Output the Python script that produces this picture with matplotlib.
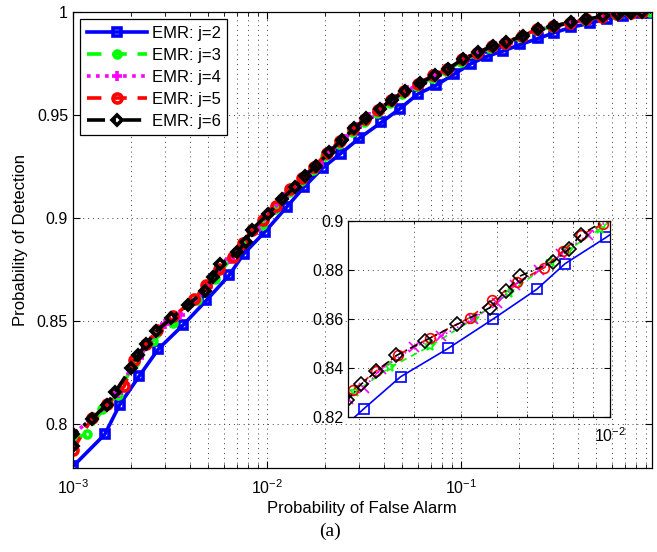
import matplotlib
matplotlib.use("Agg")
import matplotlib.pyplot as plt
from matplotlib.ticker import LogLocator, FixedLocator, NullFormatter, FixedFormatter

# ---------------- data ----------------
labels = ["EMR: j=2", "EMR: j=3", "EMR: j=4", "EMR: j=5", "EMR: j=6"]

x_j2 = [1.0e-3, 1.46e-3, 1.74e-3, 2.2e-3, 2.76e-3, 3.7e-3, 4.88e-3, 6.38e-3, 7.6e-3, 9.8e-3,
        1.27e-2, 1.55e-2, 1.94e-2, 2.4e-2, 3.0e-2, 3.9e-2, 4.85e-2, 6.0e-2, 7.45e-2, 9.25e-2,
        0.113, 0.136, 0.165, 0.203, 0.25, 0.303, 0.37, 0.466, 0.57, 0.69, 0.847, 0.94]
y_j2 = [0.7793, 0.7949, 0.8092, 0.8233, 0.8364, 0.8480, 0.8600, 0.8721, 0.8826, 0.8934,
        0.9055, 0.9149, 0.9243, 0.9313, 0.9388, 0.9465, 0.9531, 0.9602, 0.9645, 0.9699,
        0.9750, 0.9785, 0.9811, 0.9843, 0.9872, 0.9900, 0.9926, 0.9947, 0.9969, 0.9981, 0.9995, 0.9998]

x_j3 = [1.0e-3, 1.18e-3, 1.42e-3, 1.7e-3, 2.08e-3, 2.59e-3, 3.30e-3, 4.34e-3, 5.38e-3, 6.97e-3,
        7.73e-3, 9.4e-3, 1.1e-2, 1.3e-2, 1.5e-2, 1.72e-2, 2.0e-2, 2.35e-2, 2.75e-2, 3.15e-2,
        3.7e-2, 4.3e-2, 5.0e-2, 5.95e-2, 7.1e-2, 8.4e-2, 0.1, 0.12, 0.142, 0.168,
        0.203, 0.244, 0.296, 0.36, 0.435, 0.53, 0.635, 0.745, 0.855, 0.94]
y_j3 = [0.7925, 0.7951, 0.8070, 0.8140, 0.8300, 0.8403, 0.8488, 0.8601, 0.8706, 0.8833,
        0.8881, 0.8967, 0.9045, 0.9125, 0.9180, 0.9235, 0.9300, 0.9360, 0.9420, 0.9465,
        0.9512, 0.9558, 0.9600, 0.9640, 0.9680, 0.9712, 0.9760, 0.9795, 0.9828, 0.9847,
        0.9879, 0.9911, 0.9929, 0.9946, 0.9962, 0.9976, 0.9988, 0.9994, 0.9998, 1.0]

x_j4 = [1.0e-3, 1.24e-3, 1.48e-3, 1.7e-3, 2.0e-3, 2.2e-3, 2.45e-3, 2.99e-3, 3.55e-3, 4.3e-3,
        5.0e-3, 5.6e-3, 6.48e-3, 7.4e-3, 8.74e-3, 1.05e-2, 1.22e-2, 1.42e-2, 1.62e-2, 1.85e-2,
        2.15e-2, 2.5e-2, 2.9e-2, 3.35e-2, 3.9e-2, 4.5e-2, 5.3e-2, 6.3e-2, 7.5e-2, 8.8e-2,
        0.105, 0.125, 0.15, 0.175, 0.213, 0.255, 0.31, 0.38, 0.45, 0.55, 0.655, 0.765, 0.88]
y_j4 = [0.7951, 0.8020, 0.8085, 0.8150, 0.8275, 0.8320, 0.8395, 0.8485, 0.8530, 0.8600,
        0.8665, 0.8740, 0.8800, 0.8865, 0.8943, 0.9030, 0.9100, 0.9152, 0.9210, 0.9258,
        0.9325, 0.9385, 0.9440, 0.9490, 0.9533, 0.9578, 0.9620, 0.9658, 0.9697, 0.9724,
        0.9770, 0.9803, 0.9835, 0.9852, 0.9884, 0.9916, 0.9933, 0.9950, 0.9965, 0.9978, 0.9990, 0.9996, 0.9999]

x_j5 = [1.0e-3, 1.26e-3, 1.5e-3, 1.84e-3, 2.06e-3, 2.38e-3, 2.72e-3, 3.30e-3, 4.22e-3, 4.85e-3,
        5.66e-3, 6.68e-3, 7.49e-3, 8.39e-3, 9.6e-3, 1.12e-2, 1.32e-2, 1.52e-2, 1.75e-2, 2.05e-2,
        2.38e-2, 2.78e-2, 3.2e-2, 3.75e-2, 4.35e-2, 5.1e-2, 6.05e-2, 7.2e-2, 8.5e-2, 0.101,
        0.121, 0.144, 0.17, 0.206, 0.247, 0.3, 0.366, 0.44, 0.535, 0.64, 0.75, 0.86]
y_j5 = [0.7875, 0.8030, 0.8095, 0.8183, 0.8310, 0.8389, 0.8454, 0.8522, 0.8605, 0.8676,
        0.8751, 0.8809, 0.8877, 0.8943, 0.8988, 0.9060, 0.9140, 0.9195, 0.9250, 0.9315,
        0.9375, 0.9432, 0.9480, 0.9527, 0.9572, 0.9615, 0.9653, 0.9693, 0.9722, 0.9770,
        0.9802, 0.9834, 0.9852, 0.9884, 0.9916, 0.9933, 0.9949, 0.9965, 0.9978, 0.9989, 0.9995, 0.9999]

x_j6 = [1.0e-3, 1.0e-3, 1.25e-3, 1.49e-3, 1.65e-3, 1.99e-3, 2.17e-3, 2.38e-3, 2.69e-3, 3.21e-3,
        3.91e-3, 4.78e-3, 5.27e-3, 5.75e-3, 7.05e-3, 7.78e-3, 8.36e-3, 1.015e-2, 1.19e-2, 1.39e-2,
        1.57e-2, 1.8e-2, 2.1e-2, 2.43e-2, 2.83e-2, 3.25e-2, 3.82e-2, 4.41e-2, 5.17e-2, 6.15e-2,
        7.34e-2, 8.6e-2, 0.1025, 0.123, 0.146, 0.171, 0.209, 0.25, 0.304, 0.372,
        0.444, 0.54, 0.645, 0.753, 0.864]
y_j6 = [0.7893, 0.7950, 0.8024, 0.8092, 0.8154, 0.8270, 0.8335, 0.8387, 0.8451, 0.8512,
        0.8578, 0.8646, 0.8714, 0.8775, 0.8833, 0.8885, 0.8943, 0.9020, 0.9092, 0.9149,
        0.9205, 0.9254, 0.9320, 0.9380, 0.9435, 0.9485, 0.9530, 0.9575, 0.9618, 0.9655,
        0.9695, 0.9725, 0.9772, 0.9804, 0.9836, 0.9853, 0.9885, 0.9917, 0.9934, 0.9950,
        0.9966, 0.9979, 0.9990, 0.9996, 1.0]

y_ticks_main = [0.8, 0.85, 0.9, 0.95, 1.0]
y_ticklabels_main = ["0.8", "0.85", "0.9", "0.95", "1"]
y_ticks_inset = [0.82, 0.84, 0.86, 0.88, 0.9]
y_ticklabels_inset = ["0.82", "0.84", "0.86", "0.88", "0.9"]

# ---------------- style ----------------
plt.rcParams['font.family'] = ['Liberation Sans', 'DejaVu Sans']
plt.rcParams['mathtext.fontset'] = 'custom'
plt.rcParams['mathtext.rm'] = 'Liberation Sans'
plt.rcParams['mathtext.it'] = 'Liberation Sans'

series = [
    (x_j2, y_j2, dict(color='#0000ff', ls='-',  main_m='s', ins_m='s', ms=5.5)),
    (x_j3, y_j3, dict(color='#00ff00', ls=(0, (4, 3)), main_m='o', ins_m='*', ms=5.0)),
    (x_j4, y_j4, dict(color='#ff00ff', ls=(0, (1, 1.5)), main_m='+', ins_m='x', ms=7.0)),
    (x_j5, y_j5, dict(color='#ff0000', ls=(0, (4, 3)), main_m='o', ins_m='o', ms=6.5)),
    (x_j6, y_j6, dict(color='#000000', ls=(0, (5, 2, 1, 2)), main_m='D', ins_m='D', ms=5.0)),
]

fig = plt.figure(figsize=(6.57, 5.52), dpi=100)
ax = fig.add_axes([0.111, 0.152, 0.881, 0.826])

grid_kw = dict(color='0.25', linestyle=(0, (1, 4)), linewidth=0.7)

for (xs, ys, st), lab in zip(series, labels):
    ax.plot(xs, ys, linestyle=st['ls'], color=st['color'], lw=2.6,
            marker=st['main_m'], ms=st['ms'],
            mfc='none', mec=st['color'], mew=2.6, label=lab)

ax.set_xscale('log')
ax.set_xlim(1e-3, 0.965)
ax.set_ylim(0.7785, 1.0)
ax.xaxis.set_major_locator(FixedLocator([1e-3, 1e-2, 1e-1]))
ax.xaxis.set_major_formatter(FixedFormatter([r'$10^{-3}$', r'$10^{-2}$', r'$10^{-1}$']))
ax.xaxis.set_minor_locator(LogLocator(base=10, subs=range(2, 10), numticks=20))
ax.xaxis.set_minor_formatter(NullFormatter())
ax.set_yticks(y_ticks_main)
ax.set_yticklabels(y_ticklabels_main)
ax.grid(True, which='major', axis='both', **grid_kw)
ax.grid(True, which='minor', axis='x', **grid_kw)
ax.tick_params(direction='in', which='both', top=True, right=True, labelsize=11.5)
ax.tick_params(which='major', length=5)
ax.tick_params(which='minor', length=3)
ax.tick_params(axis='x', pad=7)
ax.set_xlabel('Probability of False Alarm', fontsize=12, labelpad=3)
ax.set_ylabel('Probability of Detection', fontsize=12, labelpad=6)
for sp in ax.spines.values():
    sp.set_linewidth(0.9)

leg = ax.legend(loc='upper left', bbox_to_anchor=(0.012, 0.985), fontsize=12,
                handlelength=3.6, handletextpad=0.3, labelspacing=0.42,
                borderpad=0.4, fancybox=False, framealpha=1, edgecolor='black',
                borderaxespad=0.0)
leg.get_frame().set_linewidth(0.9)

# ---------------- inset ----------------
ins = fig.add_axes([0.530, 0.2446, 0.398, 0.355])
ins.set_facecolor('white')
for (xs, ys, st) in series:
    ins.plot(xs, ys, linestyle=st['ls'], color=st['color'], lw=1.2,
             marker=st['ins_m'], ms=7 if st['ins_m'] != '*' else 8,
             mfc='none', mec=st['color'], mew=1.2, clip_on=True)
ins.set_xscale('log')
ins.set_xlim(2e-3, 1e-2)
ins.set_ylim(0.82, 0.9)
ins.xaxis.set_major_locator(FixedLocator([1e-2]))
ins.xaxis.set_major_formatter(FixedFormatter([r'$10^{-2}$']))
ins.xaxis.set_minor_locator(FixedLocator([2e-3, 3e-3, 4e-3, 5e-3, 6e-3, 7e-3, 8e-3, 9e-3]))
ins.xaxis.set_minor_formatter(NullFormatter())
ins.set_yticks(y_ticks_inset)
ins.set_yticklabels(y_ticklabels_inset)
ins.grid(True, which='major', axis='both', **grid_kw)
ins.grid(True, which='minor', axis='x', **grid_kw)
ins.tick_params(direction='in', which='both', top=True, right=True, labelsize=11.5)
ins.tick_params(which='major', length=4)
ins.tick_params(which='minor', length=2.5)
ins.tick_params(axis='x', pad=7)
for sp in ins.spines.values():
    sp.set_linewidth(0.9)

fig.text(0.503, 0.038, '(a)', ha='center', va='center', fontsize=14,
         family=['Liberation Serif', 'DejaVu Serif'])

fig.savefig('out.png', dpi=100)
